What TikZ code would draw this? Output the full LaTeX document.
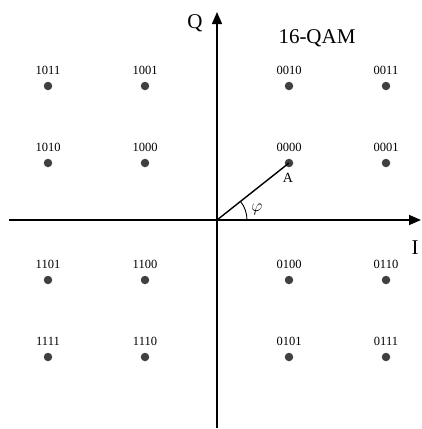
\documentclass[tikz,border=0pt]{standalone}
\usepackage{fontspec}
\setmainfont{Liberation Serif}
\usepackage{xcolor}
\usepackage{tikz}
\usetikzlibrary{arrows.meta}
\definecolor{dotgray}{HTML}{404040}
\tikzset{
  every node/.style={font=\fontsize{14}{16}\selectfont},
  qdot/.style={
    circle, fill=dotgray, inner sep=0pt, minimum size=8.5pt
  },
  axis/.style={
    -{Triangle[length=12pt,width=10pt]},
    line width=1.6pt, draw=black
  },
  axislabel/.style={font=\fontsize{21}{24}\selectfont},
  every label/.style={font=\fontsize{12.5}{14}\selectfont},
}
\begin{document}
\begin{tikzpicture}[x=1pt,y=-1pt]
  \useasboundingbox (0,0) rectangle (421,429);
  % axes
  \coordinate (O) at (217,220);
  \coordinate (west) at (9,220);
  \coordinate (east) at (421,220);
  \coordinate (south) at (217,428);
  \coordinate (north) at (217,12);
  \draw[axis] (west) -- (east);
  \draw[axis] (south) -- (north);
  \node[axislabel] (qlab) at (195,23) {Q};
  \node[axislabel] (ilab) at (415,248) {I};
  \node[axislabel] (title) at (317,38) {16-QAM};
  % constellation points
  \node[qdot, label={[label distance=3.5pt]above:1011}] (p1011) at (48,86) {};
  \node[qdot, label={[label distance=3.5pt]above:1001}] (p1001) at (145,86) {};
  \node[qdot, label={[label distance=3.5pt]above:0010}] (p0010) at (289,86) {};
  \node[qdot, label={[label distance=3.5pt]above:0011}] (p0011) at (386,86) {};
  \node[qdot, label={[label distance=3.5pt]above:1010}] (p1010) at (48,163) {};
  \node[qdot, label={[label distance=3.5pt]above:1000}] (p1000) at (145,163) {};
  \node[qdot, label={[label distance=3.5pt]above:0000}] (p0000) at (289,163) {};
  \node[qdot, label={[label distance=3.5pt]above:0001}] (p0001) at (386,163) {};
  \node[qdot, label={[label distance=3.5pt]above:1101}] (p1101) at (48,280) {};
  \node[qdot, label={[label distance=3.5pt]above:1100}] (p1100) at (145,280) {};
  \node[qdot, label={[label distance=3.5pt]above:0100}] (p0100) at (289,280) {};
  \node[qdot, label={[label distance=3.5pt]above:0110}] (p0110) at (386,280) {};
  \node[qdot, label={[label distance=3.5pt]above:1111}] (p1111) at (48,357) {};
  \node[qdot, label={[label distance=3.5pt]above:1110}] (p1110) at (145,357) {};
  \node[qdot, label={[label distance=3.5pt]above:0101}] (p0101) at (289,357) {};
  \node[qdot, label={[label distance=3.5pt]above:0111}] (p0111) at (386,357) {};
  % vector A and angle
  \draw[line width=1.4pt] (O) -- (p0000.center);
  \draw[line width=0.9pt] (O) ++(30,0) arc[start angle=0, end angle=-38.4, radius=30];
  \node (alab) at (288,178) {A};
  \node[font=\fontsize{17}{18}\selectfont] (philab) at (257,209) {$\varphi$};
\end{tikzpicture}
\end{document}
